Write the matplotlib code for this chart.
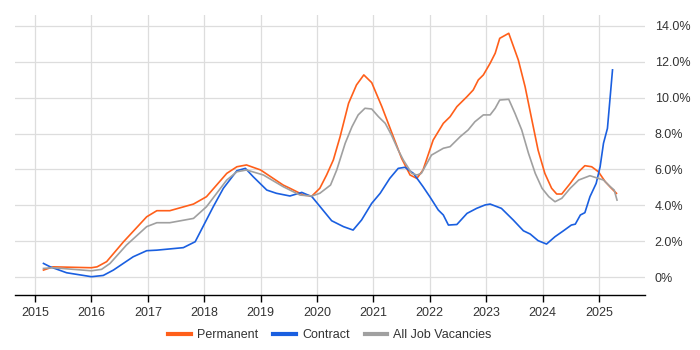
import matplotlib.pyplot as plt
from matplotlib.ticker import FuncFormatter

plt.rcParams['font.family'] = ['Liberation Sans', 'DejaVu Sans']

# values (year as decimal, vacancy share in %)
perm_x = [2015.15, 2015.32, 2016.0, 2016.1, 2016.27, 2016.57, 2016.98, 2017.16, 2017.39, 2017.81,
          2018.04, 2018.40, 2018.58, 2018.75, 2019.0, 2019.40, 2019.52, 2019.76, 2019.91, 2020.05,
          2020.17, 2020.29, 2020.41, 2020.56, 2020.70, 2020.83, 2020.97, 2021.15, 2021.32, 2021.50,
          2021.65, 2021.77, 2021.88, 2022.06, 2022.24, 2022.36, 2022.48, 2022.66, 2022.77, 2022.86,
          2022.95, 2023.07, 2023.16, 2023.24, 2023.40, 2023.57, 2023.69, 2023.81, 2023.92, 2024.04,
          2024.16, 2024.25, 2024.34, 2024.49, 2024.64, 2024.75, 2024.87, 2024.99, 2025.11, 2025.22,
          2025.31]
perm_y = [0.39, 0.57, 0.52, 0.57, 0.86, 1.97, 3.36, 3.70, 3.70, 4.07,
          4.48, 5.78, 6.15, 6.25, 5.97, 5.13, 4.95, 4.57, 4.52, 4.95,
          5.69, 6.53, 7.83, 9.69, 10.71, 11.27, 10.84, 9.50, 8.10, 6.62,
          5.69, 5.50, 5.97, 7.64, 8.57, 8.94, 9.50, 10.06, 10.43, 10.99,
          11.27, 11.92, 12.48, 13.31, 13.59, 12.10, 10.61, 8.76, 7.08, 5.78,
          4.95, 4.63, 4.63, 5.22, 5.87, 6.21, 6.15, 5.87, 5.32, 4.95,
          4.67]

contract_x = [2015.15, 2015.27, 2015.56, 2016.0, 2016.21, 2016.39, 2016.74, 2016.98, 2017.16, 2017.63,
              2017.84, 2018.16, 2018.34, 2018.58, 2018.73, 2018.87, 2019.11, 2019.28, 2019.52, 2019.73,
              2019.91, 2020.08, 2020.26, 2020.47, 2020.64, 2020.79, 2020.97, 2021.12, 2021.29, 2021.44,
              2021.56, 2021.71, 2021.88, 2022.00, 2022.15, 2022.24, 2022.33, 2022.48, 2022.66, 2022.83,
              2022.98, 2023.07, 2023.27, 2023.48, 2023.66, 2023.78, 2023.92, 2024.07, 2024.22, 2024.37,
              2024.51, 2024.58, 2024.67, 2024.75, 2024.84, 2024.95, 2025.02, 2025.08, 2025.15, 2025.24]
contract_y = [0.76, 0.57, 0.24, 0.02, 0.09, 0.39, 1.13, 1.47, 1.50, 1.64,
              1.97, 3.92, 4.95, 5.93, 6.06, 5.59, 4.85, 4.67, 4.52, 4.72,
              4.48, 3.83, 3.14, 2.81, 2.62, 3.18, 4.11, 4.67, 5.50, 6.06,
              6.12, 5.78, 5.04, 4.48, 3.74, 3.46, 2.90, 2.93, 3.55, 3.83,
              4.02, 4.07, 3.83, 3.18, 2.58, 2.40, 2.03, 1.84, 2.25, 2.58,
              2.90, 2.95, 3.46, 3.59, 4.48, 5.22, 6.15, 7.46, 8.29, 11.55]

all_x = [2015.15, 2015.32, 2016.0, 2016.18, 2016.33, 2016.62, 2016.98, 2017.16, 2017.39, 2017.81,
         2018.04, 2018.40, 2018.58, 2018.75, 2019.05, 2019.40, 2019.70, 2019.91, 2020.05, 2020.24,
         2020.35, 2020.50, 2020.62, 2020.73, 2020.85, 2020.97, 2021.09, 2021.21, 2021.32, 2021.44,
         2021.53, 2021.68, 2021.77, 2021.85, 2022.03, 2022.24, 2022.36, 2022.54, 2022.68, 2022.80,
         2022.95, 2023.07, 2023.16, 2023.24, 2023.40, 2023.51, 2023.63, 2023.75, 2023.87, 2023.99,
         2024.11, 2024.22, 2024.34, 2024.49, 2024.64, 2024.84, 2025.08, 2025.20, 2025.27, 2025.32]
all_y = [0.48, 0.52, 0.35, 0.43, 0.76, 1.78, 2.81, 3.03, 3.03, 3.27,
         3.92, 5.41, 5.87, 5.97, 5.69, 5.04, 4.57, 4.52, 4.67, 5.13,
         5.97, 7.46, 8.38, 9.04, 9.41, 9.37, 8.94, 8.57, 7.92, 7.08,
         6.53, 5.78, 5.69, 5.78, 6.80, 7.18, 7.27, 7.83, 8.20, 8.66,
         9.04, 9.04, 9.41, 9.87, 9.91, 9.13, 8.20, 6.90, 5.78, 4.95,
         4.48, 4.20, 4.39, 4.95, 5.41, 5.65, 5.41, 5.04, 4.85, 4.29]

years = list(range(2015, 2026))
y_ticks = [0, 2, 4, 6, 8, 10, 12, 14]

fig = plt.figure(figsize=(7, 3.5), dpi=100)
ax = fig.add_axes([15 / 700, 55 / 350, 630 / 700, 280 / 350])

ax.plot(perm_x, perm_y, color='#ff5f1a', lw=1.2, label='Permanent')
ax.plot(contract_x, contract_y, color='#1a5fe0', lw=1.2, label='Contract')
ax.plot(all_x, all_y, color='#a0a0a0', lw=1.2, label='All Job Vacancies')

ax.set_xlim(2014.645, 2025.816)
ax.set_ylim(-1.0, 14.61)
ax.set_xticks(years)
ax.set_yticks(y_ticks)
ax.yaxis.tick_right()
ax.yaxis.set_major_formatter(FuncFormatter(lambda v, p: '0%' if v == 0 else f'{v:.1f}%'))
ax.tick_params(axis='y', length=0, pad=7, labelsize=9, colors='#333333')
ax.tick_params(axis='x', length=5, width=1, labelsize=9, colors='#333333', direction='out')
ax.tick_params(axis='x', color='black')
ax.grid(True, color='#dddddd', lw=0.9)
ax.set_axisbelow(True)
for s in ['top', 'left', 'right']:
    ax.spines[s].set_visible(False)
ax.spines['bottom'].set_color('black')
ax.spines['bottom'].set_linewidth(1)

fig.legend(loc='center', bbox_to_anchor=(330 / 700, 15 / 350), ncol=3, frameon=False,
           fontsize=9, handlelength=1.8, handletextpad=0.5, columnspacing=1.2,
           labelcolor='#333333')
for h in fig.legends[0].get_lines():
    h.set_linewidth(3)

fig.savefig('out.png', dpi=100)
